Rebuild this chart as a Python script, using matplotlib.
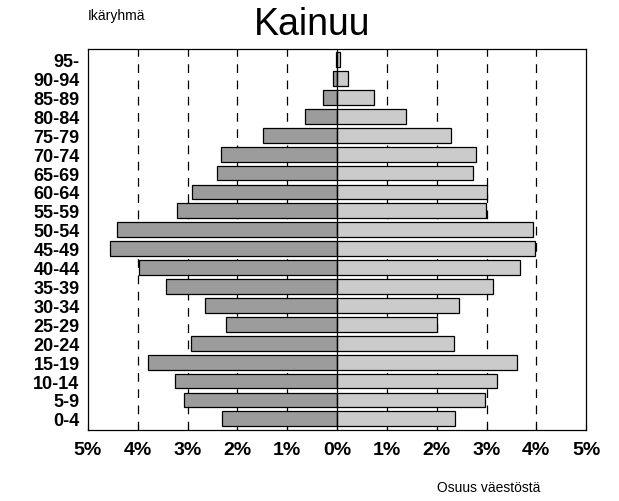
import numpy as np
import matplotlib
matplotlib.use("Agg")
import matplotlib.pyplot as plt

plt.rcParams["font.family"] = ["Liberation Sans", "DejaVu Sans"]

# age groups, bottom to top
groups = ["0-4", "5-9", "10-14", "15-19", "20-24", "25-29", "30-34", "35-39",
          "40-44", "45-49", "50-54", "55-59", "60-64", "65-69", "70-74",
          "75-79", "80-84", "85-89", "90-94", "95-"]
# share of population (%), left side (men) and right side (women)
men = [2.30, 3.08, 3.26, 3.80, 2.94, 2.22, 2.64, 3.44, 3.98, 4.56,
       4.42, 3.22, 2.92, 2.40, 2.32, 1.48, 0.64, 0.28, 0.09, 0.02]
women = [2.36, 2.96, 3.22, 3.62, 2.34, 2.00, 2.44, 3.12, 3.68, 3.98,
         3.94, 2.98, 3.00, 2.72, 2.78, 2.28, 1.38, 0.74, 0.22, 0.06]
xticks = [-5, -4, -3, -2, -1, 0, 1, 2, 3, 4, 5]

fig = plt.figure(figsize=(6.19, 5.02), dpi=100)
ax = fig.add_axes([0.142, 0.141, 0.805, 0.759])

y = np.arange(len(groups))
for xv in [-4, -3, -2, -1, 1, 2, 3, 4]:
    ax.axvline(xv, color="black", ls=(0, (7, 6)), lw=0.9, zorder=1)
ax.barh(y, [-m for m in men], height=0.78, color="#9c9c9c",
        edgecolor="black", lw=0.9, zorder=2)
ax.barh(y, women, height=0.78, color="#cbcbcb",
        edgecolor="black", lw=0.9, zorder=2)
ax.axvline(0, color="black", lw=0.9, zorder=3)

ax.set_xlim(-5, 5)
ax.set_ylim(-0.6, len(groups) - 0.45)
ax.set_xticks(xticks)
ax.set_xticklabels([f"{abs(v)}%" for v in xticks], fontsize=14, fontweight="bold")
ax.set_yticks(y)
ax.set_yticklabels(groups, fontsize=13, fontweight="bold")
ax.tick_params(axis="y", length=0, pad=6)
ax.tick_params(axis="x", direction="in", length=4, pad=8)
for s in ax.spines.values():
    s.set_linewidth(0.9)

fig.text(0.142, 0.968, "Ikäryhmä", fontsize=10, ha="left", va="center")
fig.text(0.505, 0.95, "Kainuu", fontsize=27, ha="center", va="center")
fig.text(0.79, 0.027, "Osuus väestöstä", fontsize=10, ha="center", va="center")

fig.savefig("out.png", dpi=100)
